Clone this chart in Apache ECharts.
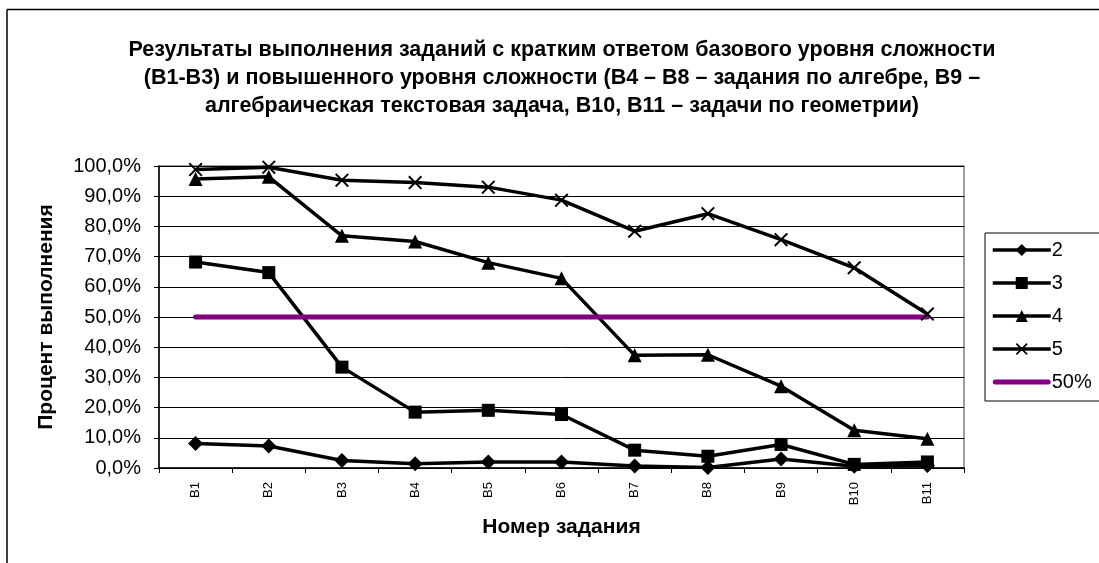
<!DOCTYPE html>
<html>
<head>
<meta charset="utf-8">
<script src="https://cdn.jsdelivr.net/npm/echarts@6/dist/echarts.min.js"></script>
<style>
html,body{margin:0;padding:0;background:#fff;}
#chart{width:1099px;height:563px;}
</style>
</head>
<body>
<div id="chart"></div>
<script>
const categories = ['B1','B2','B3','B4','B5','B6','B7','B8','B9','B10','B11'];
const s2 = [8.1, 7.3, 2.5, 1.4, 2.0, 2.0, 0.7, 0.2, 3.0, 0.6, 0.8];
const s3 = [68.2, 64.7, 33.4, 18.5, 19.1, 17.7, 5.9, 3.9, 7.8, 1.2, 2.0];
const s4 = [95.7, 96.4, 76.9, 75.0, 68.0, 62.8, 37.3, 37.5, 27.1, 12.5, 9.7];
const s5 = [98.8, 99.6, 95.3, 94.5, 93.0, 88.7, 78.4, 84.2, 75.6, 66.3, 51.0];
const s50 = [50, 50, 50, 50, 50, 50, 50, 50, 50, 50, 50];
const seriesNames = ['2', '3', '4', '5', '50%'];
const yTicks = [0, 10, 20, 30, 40, 50, 60, 70, 80, 90, 100];

const FONT = '"Liberation Sans", Arial, sans-serif';
const xPath = 'path://M0,1 L1,0 L5,4 L9,0 L10,1 L6,5 L10,9 L9,10 L5,6 L1,10 L0,9 L4,5 Z';
const barPath = 'path://M2.5,0 L55.5,0 A2.5,2.5 0 0 1 55.5,5 L2.5,5 A2.5,2.5 0 0 1 2.5,0 Z';

function lineSeries(name, data, symbol, size) {
  return {
    name: name, type: 'line', data: data,
    symbol: symbol, symbolSize: size, showSymbol: true,
    lineStyle: {color: '#000', width: 3.5},
    itemStyle: {color: '#000', borderColor: '#000', borderWidth: 0},
    emphasis: {disabled: true},
    animation: false
  };
}

const chart = echarts.init(document.getElementById('chart'));
chart.setOption({
  backgroundColor: '#fff',
  animation: false,
  title: {
    text: 'Результаты выполнения заданий с кратким ответом базового уровня сложности\n(В1-В3) и повышенного уровня сложности (В4 – В8 – задания по алгебре, В9 –\nалгебраическая текстовая задача, В10, В11 – задачи по геометрии)',
    left: 557, top: 31, textAlign: 'center',
    textStyle: {fontFamily: FONT, fontSize: 21.5, fontWeight: 'bold', color: '#000', lineHeight: 28}
  },
  graphic: [
    {type: 'line', silent: true, shape: {x1: 7, y1: 9.5, x2: 1099, y2: 9.5}, style: {stroke: '#000', lineWidth: 1.5}},
    {type: 'line', silent: true, shape: {x1: 7, y1: 9.5, x2: 7, y2: 563}, style: {stroke: '#000', lineWidth: 1.5}}
  ],
  legend: {
    orient: 'vertical', left: 985, top: 233,
    padding: [7, 40, 9, 6],
    borderColor: '#000', borderWidth: 1,
    itemWidth: 58, itemHeight: 15, itemGap: 13,
    lineStyle: {width: 3.5},
    textStyle: {fontFamily: FONT, fontSize: 20, color: '#000', lineHeight: 14, padding: [0, 0, 0, -4]},
    data: [
      seriesNames[0], seriesNames[1], seriesNames[2], seriesNames[3],
      {name: seriesNames[4], icon: barPath, itemStyle: {color: '#800080'}}
    ],
    selectedMode: false
  },
  grid: {left: 159, top: 166, right: 135, bottom: 95, show: true, borderColor: '#808080', borderWidth: 1.5, backgroundColor: '#fff'},
  xAxis: {
    type: 'category', data: categories, boundaryGap: true,
    name: 'Номер задания', nameLocation: 'middle', nameGap: 49,
    nameTextStyle: {fontFamily: FONT, fontSize: 21, fontWeight: 'bold', color: '#000'},
    axisLine: {lineStyle: {color: '#000', width: 1.5}},
    axisTick: {show: true, length: 5, lineStyle: {color: '#000'}},
    axisLabel: {rotate: 90, fontFamily: FONT, fontSize: 13, color: '#000', margin: 14},
    splitLine: {show: false}
  },
  yAxis: {
    type: 'value', min: 0, max: 100, interval: 10,
    name: 'Процент выполнения', nameLocation: 'middle', nameGap: 102, nameRotate: 90,
    nameTextStyle: {fontFamily: FONT, fontSize: 21, fontWeight: 'bold', color: '#000'},
    axisLine: {show: true, lineStyle: {color: '#000', width: 1.5}},
    axisTick: {show: true, length: 5, lineStyle: {color: '#000'}},
    axisLabel: {fontFamily: FONT, fontSize: 20, color: '#000', margin: 18,
      formatter: function (v) { return v.toFixed(1).replace('.', ',') + '%'; }},
    splitLine: {show: true, lineStyle: {color: '#000', width: 1}}
  },
  series: [
    lineSeries(seriesNames[0], s2, 'diamond', 15),
    lineSeries(seriesNames[1], s3, 'rect', 13),
    lineSeries(seriesNames[2], s4, 'triangle', 14),
    lineSeries(seriesNames[3], s5, xPath, 14),
    {
      name: seriesNames[4], type: 'line', data: s50, symbol: 'none', showSymbol: false,
      lineStyle: {color: '#800080', width: 5, cap: 'round'},
      itemStyle: {color: '#800080'},
      emphasis: {disabled: true}, animation: false
    }
  ]
});
</script>
</body>
</html>
